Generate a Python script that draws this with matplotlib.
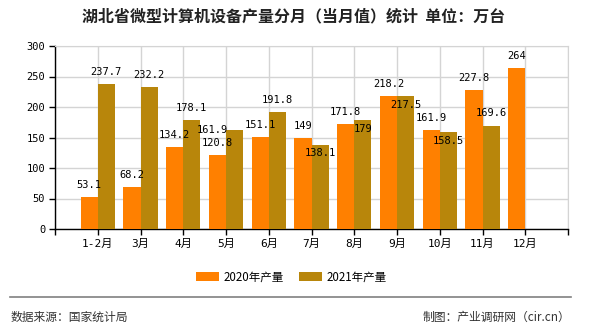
import numpy as np
import matplotlib

matplotlib.use("Agg")
import matplotlib.pyplot as plt

plt.rcParams['font.family'] = ['Noto Sans CJK SC', 'DejaVu Sans']

# Данные
months = ['1-2月', '3月', '4月', '5月', '6月', '7月', '8月', '9月', '10月', '11月', '12月']
prod_2020 = [53.1, 68.2, 134.2, 120.8, 151.1, 149, 171.8, 218.2, 161.9, 227.8, 264]
prod_2021 = [237.7, 232.2, 178.1, 161.9, 191.8, 138.1, 179, 217.5, 158.5, 169.6, np.nan]
yticks = [0, 50, 100, 150, 200, 250, 300]

# смещения подписей 2021 (в пикселях), как на картинке
lbl_shift_2021 = [(0, 12), (0, 12), (0, 12), (-22, 0), (0, 12), (0, -8),
                  (0, -9), (0, -9), (0, -9), (0, 13), (0, 0)]

C2020 = '#FF8000'
C2021 = '#B8860B'
GRID = '#d4d4d4'

fig = plt.figure(figsize=(5.9, 3.3), dpi=100)
ax = fig.add_axes([55 / 590, 1 - 229 / 330, 513 / 590, 183 / 330])

x = np.arange(len(months))
w = 0.4
ax.bar(x - w / 2, prod_2020, w, color=C2020, label='2020年产量', zorder=3)
ax.bar(x + w / 2, prod_2021, w, color=C2021, label='2021年产量', zorder=3)

mono = ['DejaVu Sans Mono', 'Noto Sans CJK SC']
for i, v in enumerate(prod_2020):
    ax.annotate(f'{v:g}', (x[i] - w / 2, v), xytext=(0, 12), textcoords='offset pixels',
                ha='center', va='center', fontsize=7.5, family=mono, zorder=5)
for i, v in enumerate(prod_2021):
    if np.isnan(v):
        continue
    dx, dy = lbl_shift_2021[i]
    ax.annotate(f'{v:g}', (x[i] + w / 2, v), xytext=(dx, dy), textcoords='offset pixels',
                ha='center', va='center', fontsize=7.5, family=mono, zorder=5)

ax.set_xlim(-1, len(months))
ax.set_ylim(0, 300)
ax.set_xticks(np.arange(-1, len(months) + 1))
ax.set_xticklabels([''] + months + [''], family=mono, fontsize=8)
ax.set_yticks(yticks)
ax.set_yticklabels([str(t) for t in yticks], family=mono, fontsize=7.5)
ax.tick_params(axis='both', length=4, width=1, color='black', pad=3)
ax.grid(True, color=GRID, linewidth=1, zorder=0)

for s in ['top', 'right']:
    ax.spines[s].set_color(GRID)
for s in ['left', 'bottom']:
    ax.spines[s].set_color('black')
    ax.spines[s].set_linewidth(1)

fig.text(294 / 590, 1 - 16 / 330, '湖北省微型计算机设备产量分月（当月值）统计  单位：万台',
         ha='center', va='center', fontsize=11.5, fontweight='bold', color='#222222')

fig.legend(loc='center', bbox_to_anchor=(291 / 590, 1 - 277 / 330), ncol=2, frameon=False,
           fontsize=8.3, handlelength=2.0, handleheight=0.8, columnspacing=1.3, handletextpad=0.4)

fig.add_artist(plt.Line2D([10 / 590, 571 / 590], [1 - 297 / 330] * 2, color='#808080', linewidth=1.2))
fig.text(11 / 590, 1 - 317 / 330, '数据来源：国家统计局', ha='left', va='center',
         fontsize=8.5, color='#333333')
fig.text(570 / 590, 1 - 317 / 330, '制图：产业调研网（cir.cn）', ha='right', va='center',
         fontsize=8.5, color='#333333')

fig.savefig('out.png', dpi=100)
